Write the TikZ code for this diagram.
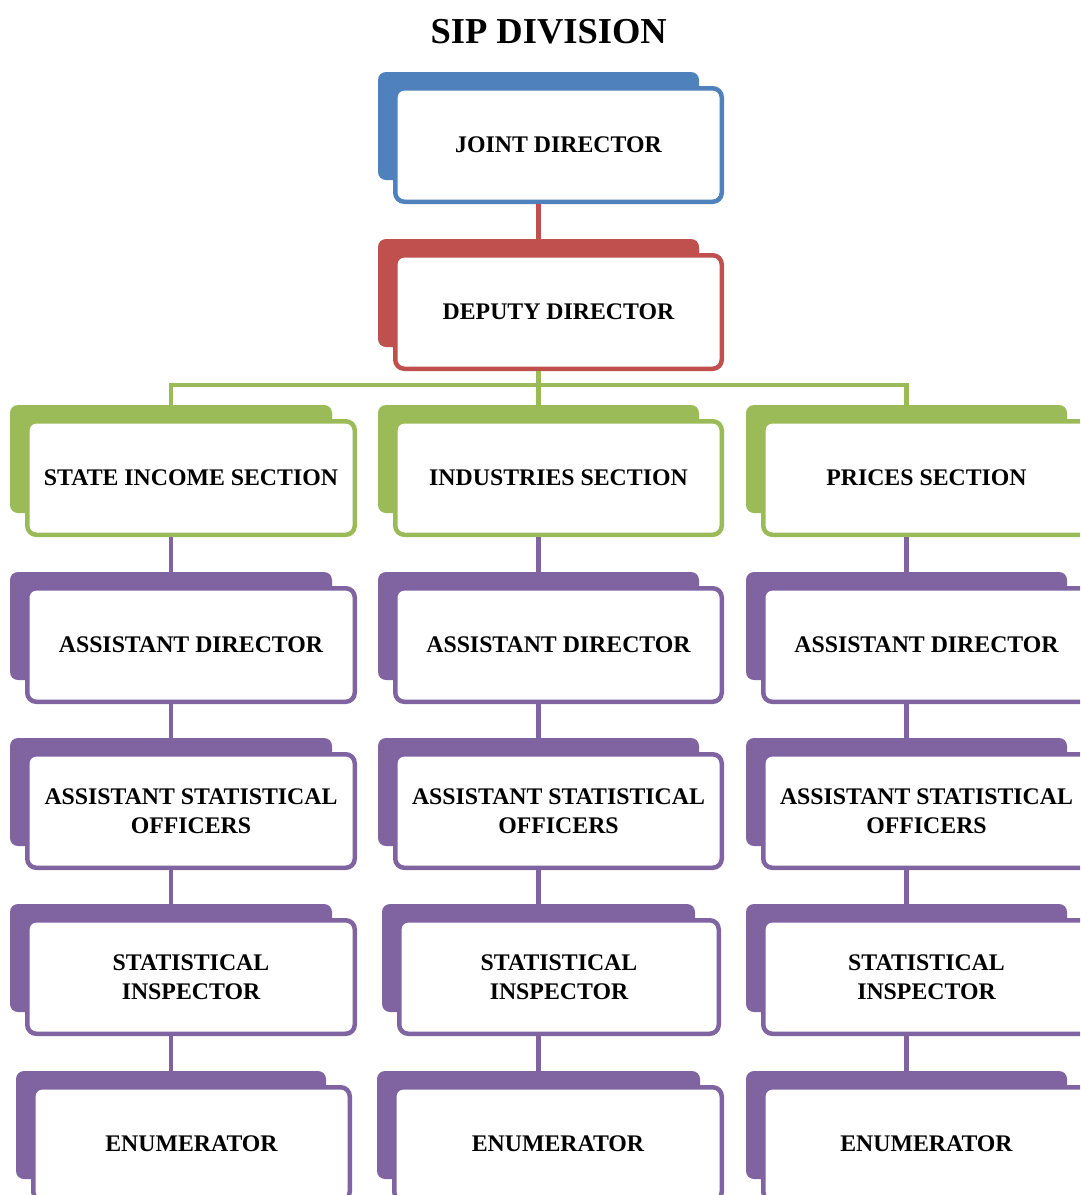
\documentclass[tikz,border=0pt]{standalone}
\usepackage{fontspec}
\setmainfont{Liberation Serif}
\definecolor{obl}{HTML}{4F81BD}
\definecolor{ored}{HTML}{C0504D}
\definecolor{ogr}{HTML}{9BBB59}
\definecolor{opu}{HTML}{8064A2}
\tikzset{
  backbox/.style={fill=#1, draw=none, rounded corners=8pt, minimum height=108pt, inner sep=0pt, outer sep=0pt},
  frontbox/.style={draw=#1, fill=white, line width=4.5pt, rounded corners=9pt, minimum height=113.5pt, inner sep=0pt, align=center, font=\bfseries\fontsize{23.8}{29.5}\selectfont},
  link/.style={draw=#1, line width=4.5pt},
  titletext/.style={font=\bfseries\fontsize{36.5}{40}\selectfont, inner sep=0pt, anchor=base}
}
% name, colour, back x, back top y, back width, front width, text
\newcommand\orgbox[7]{%
  \node[backbox=#2, minimum width={#5*1pt}] (#1b) at ({#3+#5/2},{#4+54}) {};
  \node[frontbox=#2, minimum width={(#6-4.5)*1pt}] (#1) at ({#3+15+#6/2},{#4+14+59}) {#7};
}
\begin{document}
\begin{tikzpicture}[x=1pt,y=-1pt]
\useasboundingbox (0,0) rectangle (1080,1195);
\clip (0,0) rectangle (1080,1195);

\node[titletext] (title) at (548.7,43.3) {SIP DIVISION};

\orgbox{jd}{obl}{378}{72}{321}{331}{JOINT DIRECTOR}
\orgbox{dd}{ored}{378}{239}{321}{331}{DEPUTY DIRECTOR}

\orgbox{sec1}{ogr}{10}{405}{322}{332}{STATE INCOME SECTION}
\orgbox{sec2}{ogr}{378}{405}{321}{331}{INDUSTRIES SECTION}
\orgbox{sec3}{ogr}{746}{405}{321}{331}{PRICES SECTION}

\orgbox{ad1}{opu}{10}{572}{322}{332}{ASSISTANT DIRECTOR}
\orgbox{ad2}{opu}{378}{572}{321}{331}{ASSISTANT DIRECTOR}
\orgbox{ad3}{opu}{746}{572}{321}{331}{ASSISTANT DIRECTOR}

\orgbox{aso1}{opu}{10}{738}{322}{332}{ASSISTANT STATISTICAL\\OFFICERS}
\orgbox{aso2}{opu}{378}{738}{321}{331}{ASSISTANT STATISTICAL\\OFFICERS}
\orgbox{aso3}{opu}{746}{738}{321}{331}{ASSISTANT STATISTICAL\\OFFICERS}

\orgbox{si1}{opu}{10}{904}{322}{332}{STATISTICAL\\INSPECTOR}
\orgbox{si2}{opu}{382}{904}{313}{324}{STATISTICAL\\INSPECTOR}
\orgbox{si3}{opu}{746}{904}{321}{331}{STATISTICAL\\INSPECTOR}

\orgbox{en1}{opu}{16}{1071}{310}{321}{ENUMERATOR}
\orgbox{en2}{opu}{377}{1071}{323}{332}{ENUMERATOR}
\orgbox{en3}{opu}{746}{1071}{321}{331}{ENUMERATOR}

% connectors
\coordinate (bus) at (538,385);
\draw[link=ored] (ddb.north) -- (ddb.north |- jd.south);
\draw[link=ogr] (sec2b.north) -- (sec2b.north |- dd.south);
\draw[link=ogr] (sec1b.north) -- (sec1b.north |- bus) -- (sec3b.north |- bus) -- (sec3b.north);

\foreach \c in {1,2,3}{
  \draw[link=opu] (ad\c b.north) -- (ad\c b.north |- sec\c.south);
  \draw[link=opu] (aso\c b.north) -- (aso\c b.north |- ad\c.south);
  \draw[link=opu] (si\c b.north) -- (si\c b.north |- aso\c.south);
  \draw[link=opu] (en\c b.north) -- (en\c b.north |- si\c.south);
}
\end{tikzpicture}
\end{document}
